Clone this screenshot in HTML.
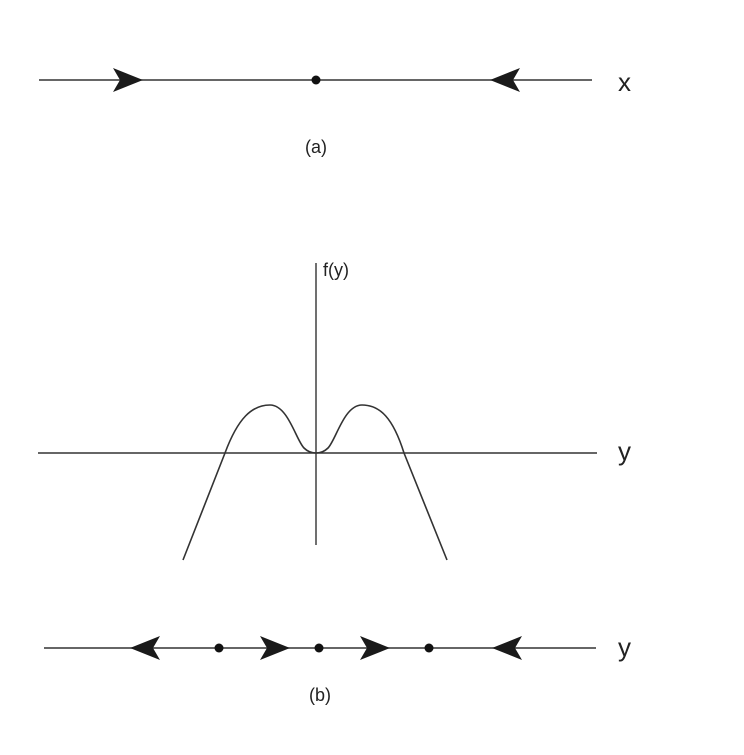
<!DOCTYPE html>
<html><head><style>html,body{margin:0;padding:0;background:#fff;}</style></head>
<body>
<svg width="744" height="750" viewBox="0 0 744 750" xmlns="http://www.w3.org/2000/svg">
<defs>
<path id="ar" d="M0,0 L-30,-12 L-23,0 L-30,12 Z" fill="#1a1a1a"/>
</defs>
<g stroke="#333" stroke-width="1.4" fill="none">
<line x1="39" y1="80" x2="592" y2="80"/>
<line x1="38" y1="453" x2="597" y2="453"/>
<line x1="316" y1="263" x2="316" y2="545"/>
<line x1="44" y1="648" x2="596" y2="648"/>
<path d="M183,560 L225,453 C238,418 252,405 270,405 C288,405 296,440 304,448 C308,452 312,453 316,453 C320,453 324,452 328,448 C336,440 344,405 362,405 C380,405 393,418 404,453 L447,560" stroke-width="1.6"/>
</g>
<use href="#ar" transform="translate(143,80)"/>
<use href="#ar" transform="translate(490,80) scale(-1,1)"/>
<circle cx="316" cy="80" r="4.5" fill="#111"/>
<use href="#ar" transform="translate(130,648) scale(-1,1)"/>
<use href="#ar" transform="translate(290,648)"/>
<use href="#ar" transform="translate(390,648)"/>
<use href="#ar" transform="translate(492,648) scale(-1,1)"/>
<circle cx="219" cy="648" r="4.5" fill="#111"/>
<circle cx="319" cy="648" r="4.5" fill="#111"/>
<circle cx="429" cy="648" r="4.5" fill="#111"/>
<g font-family="Liberation Sans, sans-serif" fill="#222">
<text x="618" y="91" font-size="26">x</text>
<text x="618" y="460" font-size="26">y</text>
<text x="618" y="656" font-size="26">y</text>
<text x="316" y="153" font-size="18" text-anchor="middle">(a)</text>
<text x="320" y="701" font-size="18" text-anchor="middle">(b)</text>
<text x="323" y="276" font-size="18">f(y)</text>
</g>
</svg>
</body></html>
